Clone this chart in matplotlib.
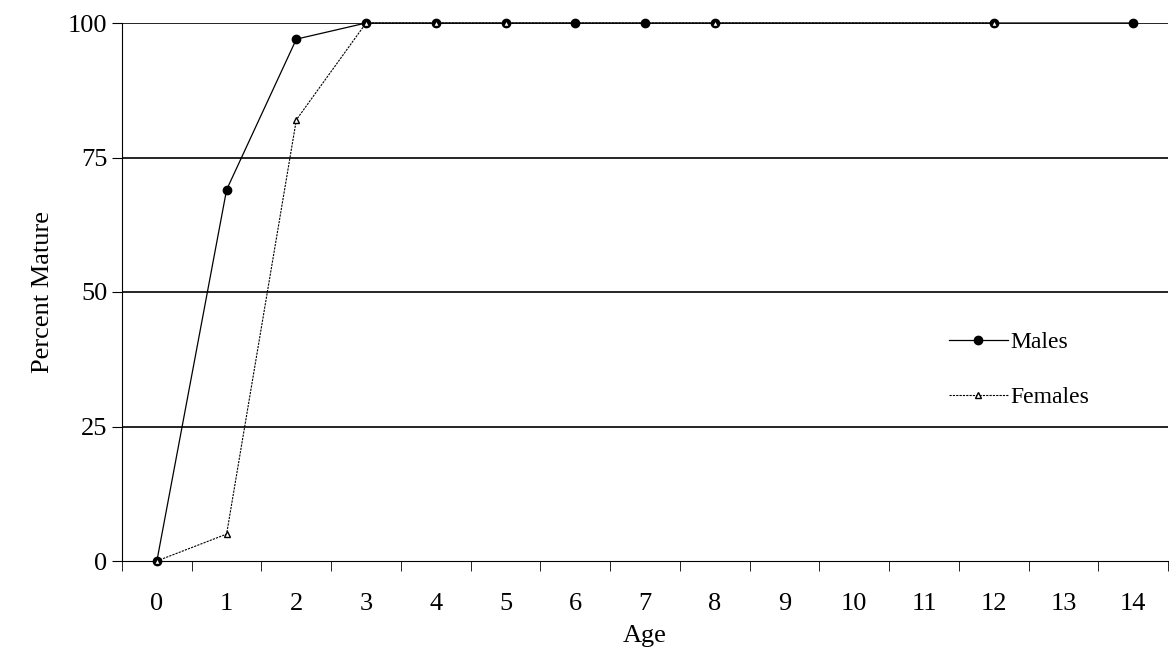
import matplotlib
matplotlib.use('Agg')
from matplotlib import pyplot as plt
import numpy as np

plt.rcParams['font.family'] = ['Liberation Serif', 'DejaVu Serif']

ages = ['0', '1', '2', '3', '4', '5', '6', '7', '8', '9', '10', '11', '12', '13', '14']
males_idx = [0, 1, 2, 3, 4, 5, 6, 7, 8, 12, 14]
males_pct = [0, 69, 97, 100, 100, 100, 100, 100, 100, 100, 100]
females_idx = [0, 1, 2, 3, 4, 5, 8, 12]
females_pct = [0, 5, 82, 100, 100, 100, 100, 100]

fig = plt.figure(figsize=(11.74, 6.61), dpi=100)
ax = fig.add_axes([122 / 1174, 1 - 561 / 661, (1168 - 122) / 1174, (561 - 23) / 661])

for y in [25, 50, 75, 100]:
    ax.axhline(y, color='black', lw=1.2, zorder=1)

ax.plot(males_idx, males_pct, color='black', lw=0.9, marker='o', ms=6,
        label='Males', zorder=3, clip_on=False)
ax.plot(females_idx, females_pct, color='black', lw=0.8, ls=(0, (2, 1)),
        marker='^', ms=5, mfc='white', mec='black', label='Females', zorder=4,
        clip_on=False)

ax.set_xlim(-0.5, len(ages) - 0.5)
ax.set_ylim(0, 100)
ax.set_xticks(np.arange(len(ages)))
ax.set_xticklabels(ages)
ax.set_xticks(np.arange(len(ages) + 1) - 0.5, minor=True)
ax.tick_params(axis='x', which='major', length=0, labelsize=19, pad=23)
ax.tick_params(axis='x', which='minor', length=7, direction='out')
ax.set_yticks([0, 25, 50, 75, 100])
ax.tick_params(axis='y', labelsize=19, length=7, direction='out')
for s in ['top', 'right']:
    ax.spines[s].set_visible(False)
ax.set_xlabel('Age', fontsize=19, labelpad=7)
ax.set_ylabel('Percent Mature', fontsize=19, labelpad=10)

ax.legend(loc='center left', bbox_to_anchor=(0.77, 0.355), frameon=False,
          fontsize=17, handlelength=2.5, labelspacing=1.4, handletextpad=0.1)

fig.savefig('out.png', dpi=100)
